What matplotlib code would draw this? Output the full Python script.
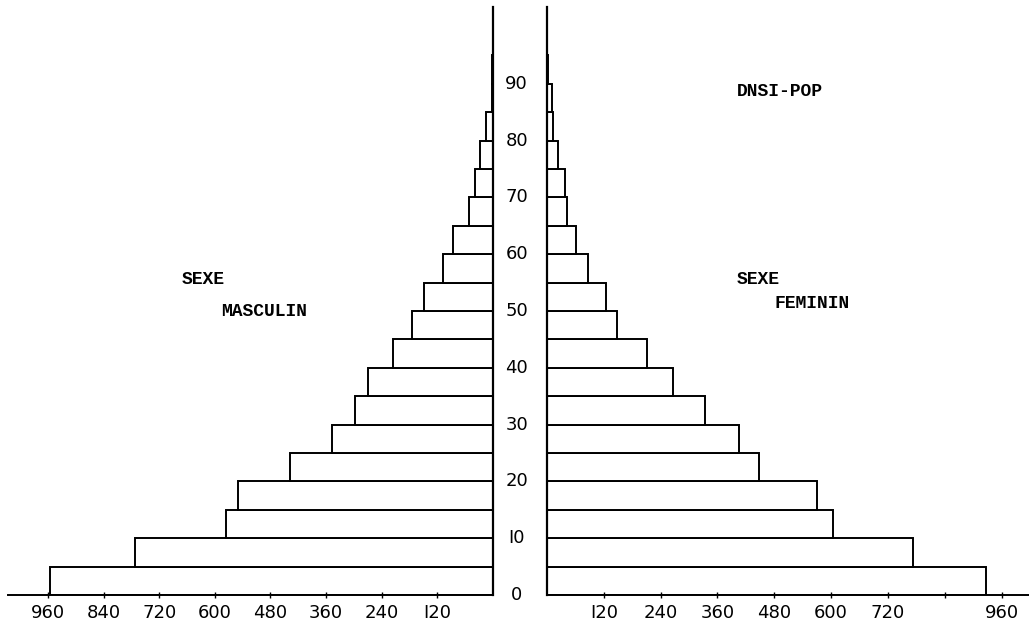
import matplotlib
matplotlib.use("Agg")
import matplotlib.pyplot as plt
import numpy as np

# age groups, 5 years wide (0-4 ... 90+)
ages = np.arange(0, 95, 5)
hommes = [955, 772, 576, 550, 438, 347, 298, 270, 216, 175,
          149, 108, 86, 52, 39, 28, 15, 3, 3]
femmes = [927, 772, 603, 570, 448, 405, 334, 267, 211, 147,
          125, 86, 61, 42, 38, 24, 13, 10, 3]

ticks_x = [120, 240, 360, 480, 600, 720, 840, 960]
labels_g = ["I20", "240", "360", "480", "600", "720", "840", "960"]
labels_d = ["I20", "240", "360", "480", "600", "720", "", "960"]
ages_lab = [0, 10, 20, 30, 40, 50, 60, 70, 80, 90]
ages_txt = ["0", "I0", "20", "30", "40", "50", "60", "70", "80", "90"]

W, H = 1029, 625
fig = plt.figure(figsize=(W / 100, H / 100), dpi=100)
fig.patch.set_facecolor("white")

bot = (H - 595) / H
top = (H - 7) / H
axL = fig.add_axes([8 / W, bot, (493 - 8) / W, top - bot])
axR = fig.add_axes([547 / W, bot, (W - 547) / W, top - bot])

ymax = 103.5
lw = 1.4
axL.barh(ages, hommes, height=5, align="edge", color="white",
         edgecolor="black", linewidth=lw)
axR.barh(ages, femmes, height=5, align="edge", color="white",
         edgecolor="black", linewidth=lw)

axL.set_xlim(1046, 0)
axR.set_xlim(0, 1018)
for ax in (axL, axR):
    ax.set_ylim(0, ymax)
    ax.set_yticks([])
    ax.spines["top"].set_visible(False)
    ax.spines["bottom"].set_linewidth(lw)
    ax.tick_params(axis="x", direction="inout", length=5, width=1,
                   pad=4, labelsize=13)
    ax.set_xticks(ticks_x)

axL.spines["left"].set_visible(False)
axL.spines["right"].set_linewidth(1.6)
axR.spines["right"].set_visible(False)
axR.spines["left"].set_linewidth(1.6)
axL.set_xticklabels(labels_g)
axR.set_xticklabels(labels_d)

for a, t in zip(ages_lab, ages_txt):
    axR.text(-64, a, t, ha="center", va="center", fontsize=13,
             clip_on=False)

mono = dict(family="Liberation Mono", fontweight="bold", fontsize=13,
            ha="center", va="center")
fig.text(203 / W, 1 - 279 / H, "SEXE", **mono)
fig.text(264 / W, 1 - 312 / H, "MASCULIN", **mono)
fig.text(780 / W, 1 - 91 / H, "DNSI-POP", **mono)
fig.text(758 / W, 1 - 279 / H, "SEXE", **mono)
fig.text(812 / W, 1 - 303 / H, "FEMININ", **mono)

fig.savefig("out.png", dpi=100, facecolor="white")
